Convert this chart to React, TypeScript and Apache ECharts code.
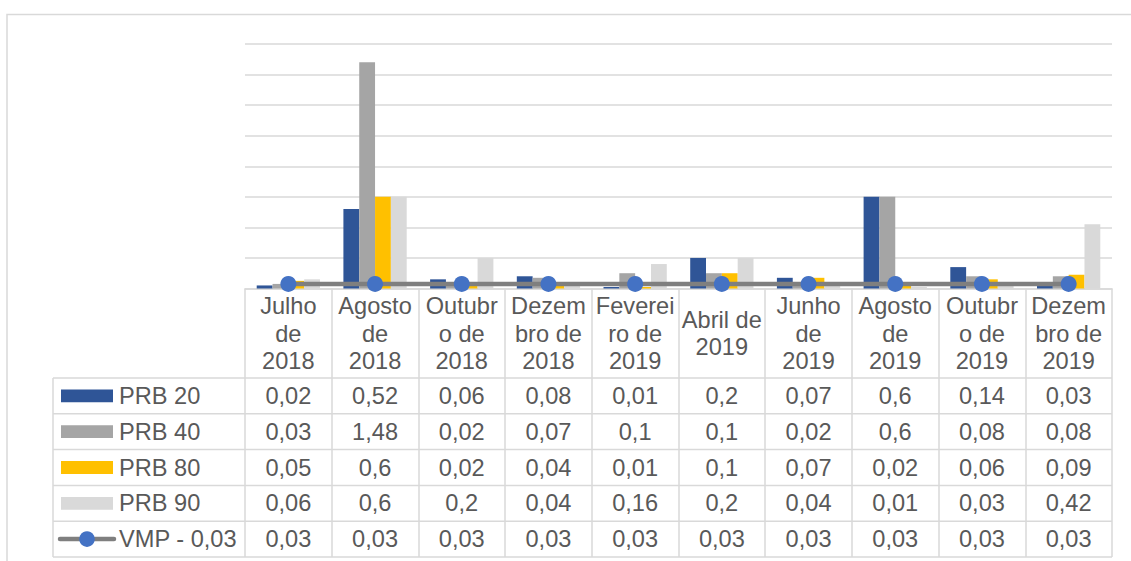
import React, { useEffect, useRef } from "react";
import * as echarts from "echarts";

const categories = [
  "Julho de 2018", "Agosto de 2018", "Outubro de 2018", "Dezembro de 2018", "Fevereiro de 2019",
  "Abril de 2019", "Junho de 2019", "Agosto de 2019", "Outubro de 2019", "Dezembro de 2019",
];
const tickLabels = [
  "Julho\nde\n2018", "Agosto\nde\n2018", "Outubr\no de\n2018", "Dezem\nbro de\n2018", "Feverei\nro de\n2019",
  "Abril de\n2019", "Junho\nde\n2019", "Agosto\nde\n2019", "Outubr\no de\n2019", "Dezem\nbro de\n2019",
];
const prb20 = [0.02, 0.52, 0.06, 0.08, 0.01, 0.2, 0.07, 0.6, 0.14, 0.03];
const prb40 = [0.03, 1.48, 0.02, 0.07, 0.1, 0.1, 0.02, 0.6, 0.08, 0.08];
const prb80 = [0.05, 0.6, 0.02, 0.04, 0.01, 0.1, 0.07, 0.02, 0.06, 0.09];
const prb90 = [0.06, 0.6, 0.2, 0.04, 0.16, 0.2, 0.04, 0.01, 0.03, 0.42];
const vmp = [0.03, 0.03, 0.03, 0.03, 0.03, 0.03, 0.03, 0.03, 0.03, 0.03];
const seriesNames = ["PRB 20", "PRB 40", "PRB 80", "PRB 90", "VMP - 0,03"];
const yTicks = { min: 0, max: 1.6, interval: 0.2 };

const colors = ["#2F5597", "#A5A5A5", "#FFC000", "#D9D9D9"];
const lineColor = "#7F7F7F";
const dotColor = "#4472C4";
const textColor = "#595959";
const borderColor = "#D9D9D9";
const font = "'Liberation Sans', Arial, sans-serif";
const fontSize = 23.6;

const W = 1131;
const H = 561;
const gridLeft = 245;
const gridRight = 19;
const gridTop = 44;
const axisY = 288.5;
const headerBottom = 378;
const rowH = 35.8;
const tableLeft = 53;

const fmt = (v: number) => String(v).replace(".", ",");

export default function App() {
  const ref = useRef<HTMLDivElement>(null);
  useEffect(() => {
    if (!ref.current) return;
    const chart = echarts.init(ref.current, undefined, { renderer: "svg" });
    const rows = [prb20, prb40, prb80, prb90, vmp];
    const rowCenter = (k: number) => headerBottom + rowH * k + rowH / 2;
    const tableBottom = headerBottom + rowH * rows.length;

    const valueAxes = rows.map((r, k) => ({
      type: "category",
      data: categories,
      position: "bottom",
      gridIndex: 0,
      axisLine: { show: false },
      axisTick: { show: false },
      splitLine: { show: false },
      axisLabel: {
        interval: 0,
        margin: rowCenter(k) - axisY,
        verticalAlign: "middle",
        fontSize,
        fontFamily: font,
        color: textColor,
        formatter: (_v: string, i: number) => fmt(r[i]),
      },
    }));

    const graphics: any[] = [
      {
        type: "rect",
        shape: { x: 7, y: 14.5, width: W + 10, height: H + 10 },
        style: { fill: "none", stroke: borderColor, lineWidth: 1.5 },
        silent: true,
      },
      {
        type: "line",
        shape: { x1: tableLeft, y1: headerBottom, x2: tableLeft, y2: tableBottom },
        style: { stroke: borderColor, lineWidth: 1.5 },
      },
    ];
    for (let k = 0; k <= rows.length; k++) {
      const y = headerBottom + rowH * k;
      graphics.push({
        type: "line",
        shape: { x1: tableLeft, y1: y, x2: W - gridRight, y2: y },
        style: { stroke: borderColor, lineWidth: 1.5 },
      });
    }
    seriesNames.forEach((name, k) => {
      const cy = rowCenter(k);
      if (k < 4) {
        graphics.push({
          type: "rect",
          shape: { x: 61, y: cy - 6.4, width: 52, height: 12.8 },
          style: { fill: colors[k] },
        });
      } else {
        graphics.push({
          type: "line",
          shape: { x1: 60, y1: cy, x2: 114, y2: cy },
          style: { stroke: lineColor, lineWidth: 4.5, lineCap: "round" },
        });
        graphics.push({
          type: "circle",
          shape: { cx: 87, cy, r: 7.8 },
          style: { fill: dotColor },
        });
      }
      graphics.push({
        type: "text",
        x: 119,
        y: cy,
        style: {
          text: name,
          fontSize,
          fontFamily: font,
          fill: textColor,
          align: "left",
          verticalAlign: "middle",
        },
      });
    });

    const bar = (name: string, data: number[], color: string) => ({
      name,
      type: "bar",
      data,
      xAxisIndex: 0,
      barGap: "0%",
      barCategoryGap: "27%",
      itemStyle: { color },
      z: 2,
    });

    chart.setOption({
      animation: false,
      backgroundColor: "#ffffff",
      grid: { left: gridLeft, right: gridRight, top: gridTop, bottom: H - axisY },
      xAxis: [
        {
          type: "category",
          data: categories,
          position: "bottom",
          axisLine: { show: true, lineStyle: { color: borderColor, width: 1.5 } },
          axisTick: {
            show: true,
            interval: 0,
            alignWithLabel: false,
            length: tableBottom - axisY,
            lineStyle: { color: borderColor, width: 1.5 },
          },
          axisLabel: {
            interval: 0,
            margin: (axisY + headerBottom) / 2 - axisY + 0.5,
            verticalAlign: "middle",
            fontSize,
            lineHeight: 27.3,
            fontFamily: font,
            color: textColor,
            formatter: (_v: string, i: number) => tickLabels[i],
          },
        },
        ...valueAxes,
      ],
      yAxis: {
        type: "value",
        min: yTicks.min,
        max: yTicks.max,
        interval: yTicks.interval,
        axisLabel: { show: false },
        axisLine: { show: false },
        axisTick: { show: false },
        splitLine: { lineStyle: { color: borderColor, width: 1.5 } },
      },
      series: [
        bar(seriesNames[0], prb20, colors[0]),
        bar(seriesNames[1], prb40, colors[1]),
        bar(seriesNames[2], prb80, colors[2]),
        bar(seriesNames[3], prb90, colors[3]),
        {
          name: seriesNames[4],
          type: "line",
          data: vmp,
          xAxisIndex: 0,
          symbol: "circle",
          symbolSize: 16,
          itemStyle: { color: dotColor },
          lineStyle: { color: lineColor, width: 4.5 },
          z: 5,
        },
      ],
      graphic: graphics,
    });
    return () => chart.dispose();
  }, []);
  return (
    <div
      ref={ref}
      style={{ position: "fixed", left: 0, top: 0, width: W, height: H, background: "#fff" }}
    />
  );
}
